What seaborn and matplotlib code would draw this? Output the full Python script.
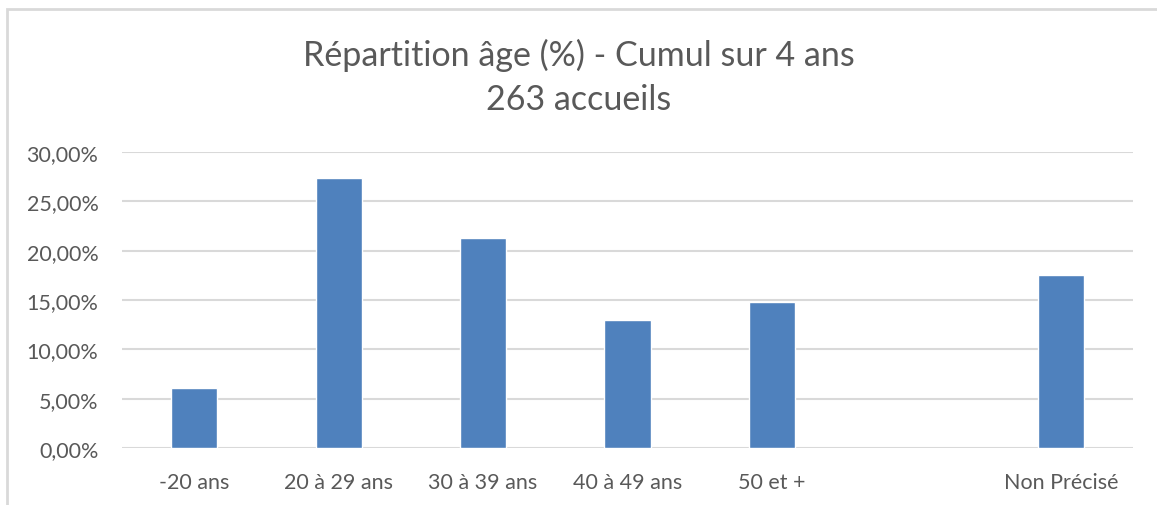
import pandas as pd
import matplotlib.pyplot as plt
import matplotlib.patches as mpatches
from matplotlib.ticker import FuncFormatter, MultipleLocator
import seaborn as sns

# Age groups (one empty slot as in the original sheet)
categories = ['-20 ans', '20 à 29 ans', '30 à 39 ans', '40 à 49 ans', '50 et +', '', 'Non Précisé']
shares = [6.08, 27.38, 21.29, 12.93, 14.83, None, 17.49]
y_ticks = [0, 5, 10, 15, 20, 25, 30]

df = pd.DataFrame({'age': categories, 'share': shares})

sns.set_theme(style='white')
plt.rcParams['font.family'] = ['Lato', 'DejaVu Sans']

fig = plt.figure(figsize=(11.57, 5.06), dpi=100)
ax = fig.add_axes([122 / 1157, 1 - 449 / 506, (1133 - 122) / 1157, (449 - 153) / 506])

sns.barplot(data=df, x='age', y='share', order=categories, color='#4f81bd',
            width=0.32, saturation=1, ax=ax, zorder=3)

ax.set_ylim(0, 30)
ax.set_xlim(-0.5, len(categories) - 0.5)
ax.set_yticks(y_ticks)
ax.yaxis.set_major_formatter(FuncFormatter(lambda v, _: f'{v:.2f}%'.replace('.', ',')))
ax.grid(axis='y', color='#d9d9d9', linewidth=1.5, zorder=0)
ax.set_axisbelow(True)
for s in ax.spines.values():
    s.set_visible(False)
ax.set_xlabel('')
ax.set_ylabel('')
ax.tick_params(axis='both', length=0, labelsize=15.5, colors='#595959')
ax.tick_params(axis='x', pad=17)
ax.tick_params(axis='y', pad=17)

fig.text(0.5, 1 - 55 / 506, 'Répartition âge (%) - Cumul sur 4 ans', ha='center', va='center',
         fontsize=24.5, color='#595959')
fig.text(0.5, 1 - 100 / 506, '263 accueils', ha='center', va='center',
         fontsize=24.5, color='#595959')

# chart frame (partly cropped in the screenshot)
fig.patches.append(mpatches.Rectangle((7 / 1157, -0.1), 1.2, 1 - 10 / 506 + 0.1,
                                      transform=fig.transFigure, fill=False,
                                      edgecolor='#d9d9d9', linewidth=2))

fig.savefig('out.png', dpi=100)
